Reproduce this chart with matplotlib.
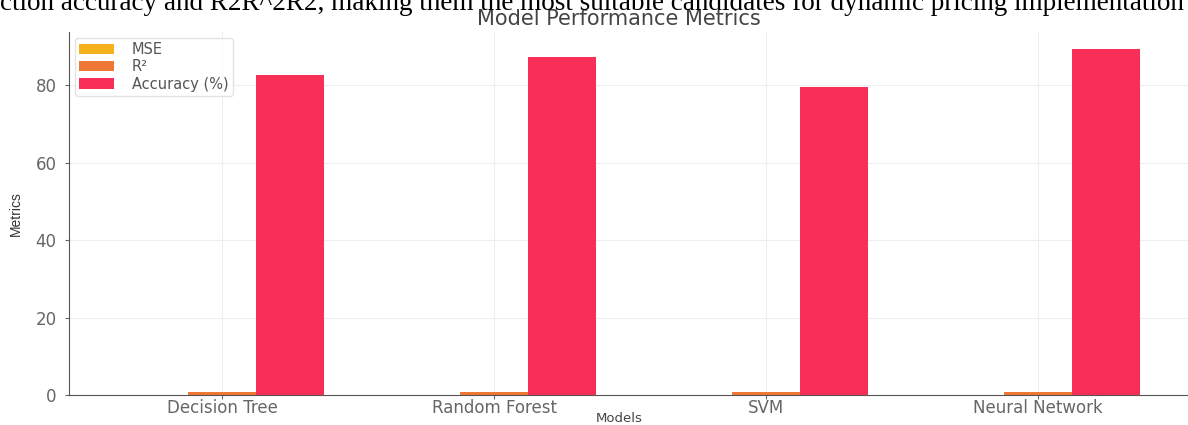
import matplotlib
matplotlib.use("Agg")
import matplotlib.pyplot as plt
import numpy as np

models = ["Decision Tree", "Random Forest", "SVM", "Neural Network"]
mse = [0.02, 0.015, 0.025, 0.012]
r2 = [0.82, 0.87, 0.79, 0.89]
accuracy = [82.6, 87.2, 79.5, 89.3]

top_text = ("ction accuracy and R2R^2R2, making them the most suitable candidates "
            "for dynamic pricing implementation")

fig = plt.figure(figsize=(11.88, 4.25), dpi=100)
ax = fig.add_axes([69 / 1188, 30 / 425, 1122 / 1188, 363 / 425])

x = np.arange(len(models))
w = 0.25
ax.bar(x - w, mse, w, color="#F7B21B", label="MSE")
ax.bar(x, r2, w, color="#F07835", label="R²")
ax.bar(x + w, accuracy, w, color="#F72F57", label="Accuracy (%)")

ax.set_xticks(x)
ax.set_xticklabels(models, fontsize=12, color="#333333")
ax.tick_params(axis="y", labelsize=12, labelcolor="#444444", pad=6)
ax.tick_params(axis="x", pad=0)
ax.tick_params(colors="#666666", length=3)
ax.set_yticks([0, 20, 40, 60, 80])
ax.grid(True, color="#eeeeee", linewidth=0.8)
ax.set_axisbelow(True)
for s in ["top", "right"]:
    ax.spines[s].set_visible(False)
for s in ["left", "bottom"]:
    ax.spines[s].set_color("#555555")

ax.set_xlabel("Models", fontsize=9.5, color="#444444", va="center")
ax.xaxis.set_label_coords(0.49, -23 / 363)
ax.set_ylabel("Metrics", fontsize=10, color="#333333", family="Liberation Sans",
              labelpad=9)
ax.set_title("Model Performance Metrics", fontsize=15, color="#444444",
             x=0.49, pad=5)

ax.legend(loc="upper left", fontsize=10.5, frameon=True, edgecolor="#dddddd",
          handlelength=2.4, handletextpad=1.2, labelspacing=0.15,
          labelcolor="#555555", borderaxespad=0.4, borderpad=0.3)

fig.text(0.0, 1.0 - 10 / 425, top_text, family="Liberation Serif",
         fontsize=19.5, color="black", ha="left", va="baseline")

fig.savefig("out.png", dpi=100)
